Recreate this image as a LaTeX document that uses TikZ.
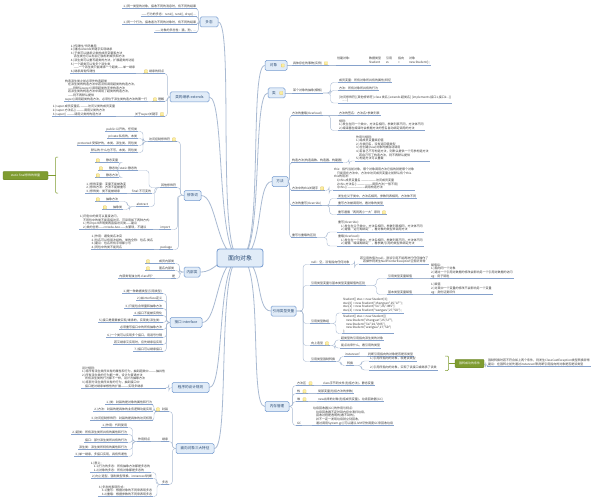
\documentclass[tikz,border=0pt]{standalone}
\usepackage{fontspec}
\newfontfamily\cjk{Noto Sans CJK SC}
\usetikzlibrary{calc}
\pgfdeclarelayer{bg}
\pgfsetlayers{bg,main}
\definecolor{txt}{HTML}{3A3A3A}
\definecolor{ulc}{HTML}{86A2CC}
\definecolor{lnc}{HTML}{A9BAD2}
\definecolor{boxf}{HTML}{E1ECF8}
\definecolor{boxb}{HTML}{7299CF}
\definecolor{boxt}{HTML}{2A4B74}
\definecolor{grn}{HTML}{7F9C30}
\definecolor{icof}{HTML}{FBEEA0}
\definecolor{icob}{HTML}{DDBB55}
\tikzset{
  tt/.style={font=\cjk\fontsize{3}{3.6}\selectfont, text=txt, inner xsep=0.8pt, inner ysep=0.5pt, align=left},
  uline/.style={draw=ulc, line width=0.35pt},
  ul/.style={tt, append after command={(\tikzlastnode.south west) edge[uline] (\tikzlastnode.south east)}},
  L/.style={ul, anchor=south east},
  R/.style={ul, anchor=south west},
  topic/.style={draw=boxb, fill=boxf, rounded corners=1.5pt, line width=0.5pt, font=\cjk\fontsize{3.6}{4}\selectfont, text=boxt, inner sep=0pt, minimum height=10pt},
  root/.style={draw=boxb, fill=boxf, rounded corners=2.5pt, line width=0.8pt, font=\cjk\fontsize{6}{7}\selectfont, text=boxt, inner sep=0pt, minimum width=46pt, minimum height=18pt},
  ico/.style={draw=icob, fill=icof, line width=0.2pt, rounded corners=0.5pt, minimum size=3.2pt, inner sep=0pt},
  gtopic/.style={draw=grn!80!black, fill=grn, rounded corners=1pt, line width=0.3pt, text=white, font=\cjk\fontsize{3}{3.6}\selectfont, inner sep=0pt, minimum height=8.5pt},
  grnl/.style={draw=grn, line width=0.5pt, rounded corners=1pt},
  conn/.style={draw=lnc, line width=0.4pt, rounded corners=3pt, to path={let \p1=(\tikztostart), \p2=(\tikztotarget) in -- ({(\x1+\x2)/2},\y1) -- ({(\x1+\x2)/2},\y2) -- (\tikztotarget) \tikztonodes}},
  sconn/.style={draw=lnc, line width=0.4pt},
  mainc/.style={draw=lnc, line width=0.8pt},
}
\newcommand\LK[2]{\draw[conn] (#1) to (#2.south east);}
\newcommand\RK[2]{\draw[conn] (#1) to (#2.south west);}
\newcommand\LS[2]{\draw[sconn] (#1) -- (#2.south east);}
\newcommand\RS[2]{\draw[sconn] (#1) -- (#2.south west);}
\newcommand\ML[1]{\draw[mainc] (c.center) .. controls +(-24,0) and +(16,0) .. (#1.east);}
\newcommand\MR[1]{\draw[mainc] (c.center) .. controls +(24,0) and +(-16,0) .. (#1.west);}
\begin{document}
\begin{tikzpicture}[x=1pt,y=-1pt]
\useasboundingbox (0,0) rectangle (607,500);
\begin{pgfonlayer}{bg}\fill[white] (0,0) rectangle (607,500);\end{pgfonlayer}

% root
\node[root] (c) at (240,258) {面向对象};

% level-1 topics, left
\node[topic, minimum width=18pt] (dt) at (209,22) {多态};
\node[topic, minimum width=39pt] (jc) at (189.5,97) {类的继承 extends};
\node[topic, minimum width=17pt] (xs) at (192.5,195.5) {修饰词};
\node[topic, minimum width=16pt] (nb) at (192,272) {内部类};
\node[topic, minimum width=32pt] (jk) at (186,322.5) {接口 interface};
\node[topic, minimum width=37pt] (gz) at (190.5,387.5) {程序的设计规则};
\node[topic, minimum width=38pt] (sd) at (195,448.5) {面向对象三大特征};
% level-1 topics, right
\node[topic, minimum width=22pt] (dx) at (276,65.5) {对象\hspace*{5pt}};
\node[ico] (dxi) at ([xshift=-4.5pt]dx.east) {};
\node[topic, minimum width=17pt] (lei) at (276.5,93) {类\hspace*{5pt}};
\node[ico] (leii) at ([xshift=-4pt]lei.east) {};
\node[topic, minimum width=16pt] (ff) at (280,181.5) {方法};
\node[topic, minimum width=25pt] (yy) at (283.5,311) {引用类型变量};
\node[topic, minimum width=24pt] (nc) at (277,406.5) {内存管理};

% ---------- 多态
\node[L] (d1) at (197,8.5) {1.)同一类型的对象，接收不同的消息时，有不同的结果};
\node[L] (d2) at (197,16.5) {——行为的多态：run1(), run2(), drop()...};
\node[L] (d3) at (197,24.5) {1.)同一个行为，接收者为不同的对象时，有不同的结果};
\node[L] (d4) at (197,32.5) {——对象的多态性：猫，狗，...};

% ---------- 类的继承
\node[L] (j1) at (165,73.5) {\hspace*{5pt}继承的特点};
\node[ico] (j1i) at ([xshift=3pt]j1.west) {};
\node[L] (jb1) at (136,73.5) {1.)传递性/代码重用\\2.)通过extends关键字实现继承\\3.)子类可以继承父类的成员变量和方法\\\quad 派生类也可以有自己独有的成员和方法\\4.)派生类可以重写超类的方法，扩展超类的功能\\5.)一个超类可以有多个派生类\\\quad ——一个派生类只能继承一个超类——单一继承\\6.)继承具有传递性};
\node[L] (j2) at (165,101.5) {\hspace*{5pt}理解};
\node[ico] (j2i) at ([xshift=3pt]j2.west) {};
\node[L] (jb2) at (148,101.5) {构造派生类之前必须先构造超类\\\quad 在派生类的构造方法中若没有调用超类的构造方法，\\\quad ——则默认super()调用超类的无参构造方法\\\quad 若派生类的构造方法中调用了超类的构造方法，\\\quad ——则不再默认提供\\super()调用超类构造方法，必须位于派生类构造方法的第一行};
\node[L] (j3) at (165,116.5) {关于super关键字\hspace*{6pt}};
\node[ico] (j3i) at ([xshift=-3pt]j3.east) {};
\node[L] (jb3) at (116,116.5) {1.)super.成员变量名 ———访问父类的成员变量\\2.)super.方法名() ———调用父类的方法\\3.)super() ———调用父类的构造方法};

% ---------- 修饰词
\node[L] (x1) at (177,141.5) {访问控制修饰符\hspace*{6pt}};
\node[ico] (x1i) at ([xshift=-3pt]x1.east) {};
\node[L] (x1a) at (138,131.5) {public:公开的，任何类};
\node[L] (x1b) at (138,138.5) {private:私有的，本类};
\node[L] (x1c) at (138,145.5) {protected:受保护的，本类、派生类、同包类};
\node[L] (x1d) at (138,152.5) {默认的:什么也不写，本类、同包类};
\node[L] (x2) at (177,187.5) {其他修饰符};
\node[L] (x2a) at (138,170.5) {static:静态的};
\node[L] (s1) at (119,162.5) {\hspace*{10pt}静态变量};
\node[ico] (s1i) at ([xshift=2.8pt]s1.west) {};
\node[L] (s2) at (119,170.5) {\hspace*{10pt}静态块};
\node[ico] (s2i) at ([xshift=2.8pt]s2.west) {};
\node[L] (s3) at (119,177.5) {\hspace*{10pt}静态方法};
\node[ico] (s3i) at ([xshift=2.8pt]s3.west) {};
\node[L] (x2b) at (152,193.5) {final:不可变的};
\node[L] (x2bb) at (127,193.5) {1.)修饰变量：变量不能被改变\\2.)修饰方法：方法不能被重写\\3.)修饰类：类不能被继承};
\node[L] (x2c) at (149,206.5) {abstract};
\node[L] (a1) at (119,201.5) {\hspace*{10pt}抽象方法};
\node[ico] (a1i) at ([xshift=2.8pt]a1.west) {};
\node[L] (a2) at (123,209.5) {\hspace*{10pt}抽象类};
\node[ico] (a2i) at ([xshift=2.8pt]a2.west) {};
\node[L] (x3) at (171,229.5) {import};
\node[L] (x3b) at (153,229.5) {1.)同包中的类可以直接访问，\\\quad 不同包中的类不能直接访问，可采用如下两种方式：\\\quad 1.)先import声明类再直接访问类——建议\\\quad 2.)类的全称——cn.tedu.Aoo——太繁琐，不建议};
\node[L] (x4) at (173,249.5) {package};
\node[L] (x4b) at (154,249.5) {1.)作用：避免类名冲突\\2.)包名可以有层次结构，类的全称：包名.类名\\3.)建议：包名所有字母都小写\\4.)同包中的类不能同名};

% green summary (static / final)
\node[gtopic, minimum width=45pt] (g1) at (25.5,175.5) {static final修饰的常量};
\coordinate (gb1) at (58,157);
\coordinate (gbm) at (55.5,175.5);
\coordinate (gb2) at (58,193);

% ---------- 内部类
\node[L] (n1) at (175,263.5) {\hspace*{13pt}成员内部类};
\node[ico] (n1i) at ([xshift=3pt]n1.west) {};
\node[L] (n2) at (175,270.5) {\hspace*{13pt}匿名内部类};
\node[ico] (n2i) at ([xshift=3pt]n2.west) {};
\node[L] (n3) at (176,278.5) {是};
\node[L] (n3a) at (155,278.5) {内部类有独立的.class吗？};

% ---------- 接口
\node[L] (k1) at (163,293.5) {1.)是一种数据类型(引用类型)};
\node[L] (k2) at (163,300.5) {2.)由interface定义};
\node[L] (k3) at (163,308.5) {3.)只能包含常量和抽象方法};
\node[L] (k4) at (163,315.5) {4.)接口不能被实例化};
\node[L] (k5) at (163,322.5) {5.)接口是需要被实现/继承的，实现类/派生类：};
\node[L] (k6) at (163,329.5) {必须重写接口中的所有抽象方法};
\node[L] (k7) at (163,337.5) {6.)一个类可以实现多个接口，用逗号分隔};
\node[L] (k8) at (163,344.5) {若又继承又实现时，应先继承后实现};
\node[L] (k9) at (163,351.5) {7.)接口可以继承接口};

% ---------- 程序的设计规则
\node[L] (gb) at (166,388) {设计规则：\\1.)将所有派生类所共有的属性和行为，抽到超类中———抽共性\\2.)所有派生类的行为都一样，设计为普通方法\\\quad 所有派生类的行为都不一样，设计为抽象方法\\3.)将部分派生类所共有的行为，抽到接口中\\\quad 接口是对继承单根性的扩展———实现多继承};

% ---------- 面向对象三大特征
\node[L] (f1) at (169,411.5) {\hspace*{6pt}封装};
\node[ico] (f1i) at ([xshift=3pt]f1.west) {};
\node[L] (f1a) at (153,404.5) {1.)类：封装的是对象的属性和行为};
\node[L] (f1b) at (153,411.5) {2.)方法：封装的是具体的业务逻辑功能实现};
\node[L] (f1c) at (153,420.5) {3.)访问控制修饰符：封装的是具体的访问权限};
\node[L] (f2) at (169,441.5) {继承};
\node[L] (f2x) at (151,441.5) {作用特点};
\node[L] (f2a) at (128,427.5) {1.)作用：代码复用};
\node[L] (f2b) at (128,434.5) {2.)超类：所有派生类所共有的属性和行为};
\node[L] (f2c) at (128,442.5) {接口：部分派生类所共有的行为};
\node[L] (f2d) at (128,449.5) {派生类：派生类所特有的属性和行为};
\node[L] (f2e) at (128,456.5) {3.)单一继承，多接口实现，具有传递性};
\node[L] (f3) at (169,484.5) {多态};
\node[L] (f3a) at (151,472.5) {1.)意义：\\\quad 1.1)行为的多态：所有抽象方法都是多态的\\\quad 1.2)对象的多态：所有对象都是多态的};
\node[L] (f3b) at (153,478.5) {2.)向上造型、强制类型转换、instanceof判断};
\node[L] (f3c) at (153,496.5) {3.)多态的表现形式：\\\quad 3.1)重写：根据对象的不同来表现多态\\\quad 3.2)重载：根据参数的不同来表现多态};

% ---------- 对象
\node[R] (o1) at (292,65.5) {具体存在的事物(实例)\hspace*{6pt}};
\node[ico] (o1i) at ([xshift=-3pt]o1.east) {};
\node[R] (o1a) at (336,65.5) {\renewcommand\arraystretch{1.1}\begin{tabular}{@{}l@{\hspace{17pt}}l@{\hspace{5pt}}l@{\hspace{6pt}}l@{\hspace{5pt}}l@{}}创建对象： & 数据类型 & 引用 & 指向 & 对象\\ & Student & zs & = & new Student();\end{tabular}};

% ---------- 类
\node[R] (l1) at (292,93) {某个对象的抽象(模板)};
\node[R] (l1a) at (338,82.5) {成员变量：所有对象所共有的属性/特征};
\node[R] (l1b) at (338,90.5) {方法：所有对象所共有的行为};
\node[R] (l1c) at (338,103) {[访问修饰符] [其他修饰符] class 类名 [extends 超类名] [implements 接口1,接口2...]\{\\\quad ......\}};

% ---------- 方法
\node[R] (m1) at (291,115.5) {方法的重载(Overload)};
\node[R] (m1a) at (338,115.5) {方法的签名：方法名+参数列表};
\node[R] (m1b) at (338,130.5) {规则：\\1.)发生在同一个类中，方法名相同，参数列表不同，方法体不同\\2.)编译器在编译时会根据方法的签名自动绑定调用的方法};
\node[R] (m2) at (291,162.5) {构造方法(构造函数、构造器、构建器)};
\node[R] (m2a) at (355,161) {作用与规则：\\1.)给成员变量赋初值\\2.)与类同名，没有返回值类型\\3.)在创建(new)对象时被自动调用\\4.)若自己不写构造方法，则默认提供一个无参构造方法\\\quad 若自己写了构造方法，则不再默认提供\\5.)构造方法可以重载};
\node[R] (m3) at (291,190.5) {方法中的this关键字\hspace*{6pt}};
\node[ico] (m3i) at ([xshift=-3pt]m3.east) {};
\node[R] (m3a) at (333,190) {this：指代当前对象，哪个对象调用方法它指的就是哪个对象\\\quad 只能用在方法中，方法中访问成员变量之前默认有个this.\\this的用法：\\\quad 1)this.成员变量名 ——————访问成员变量\\\quad 2)this.方法名() ——————调用方法(一般不用)\\\quad 3)this() ———————调用构造方法};
\node[R] (m4) at (291,205.5) {方法的重写(Override)};
\node[R] (m4a) at (337,198.5) {发生在父子类中，方法名相同，参数列表相同，方法体不同};
\node[R] (m4b) at (337,205.5) {重写方法被调用时，看对象的类型};
\node[R] (m4c) at (337,214.5) {重写遵循“两同两小一大”原则\hspace*{6pt}};
\node[ico] (m4ci) at ([xshift=-3pt]m4c.east) {};
\node[R] (m5) at (291,237.5) {重写与重载的区别};
\node[R] (m5a) at (337,232) {重写(Override)：\\\quad 1.)发生在父子类中，方法名相同，参数列表相同，方法体不同\\\quad 2.)遵循“运行期绑定”，看对象的类型来调用方法};
\node[R] (m5b) at (337,246) {重载(Overload)：\\\quad 1.)发生在一个类中，方法名相同，参数列表不同，方法体不同\\\quad 2.)遵循“编译期绑定”，看参数/引用的类型来绑定方法};

% ---------- 引用类型变量
\node[R] (r1) at (310,264.5) {null：空，没有指向任何对象};
\node[R] (r1a) at (359,264) {若引用的值为null，则该引用不能再进行任何操作了\\\quad 若操作则发生NullPointerException空指针异常};
\node[R] (r2) at (310,285.5) {引用类型变量与基本类型变量赋值的区别};
\node[R] (r2a) at (387,278.5) {引用类型变量赋值};
\node[R] (r2aa) at (430,278.5) {赋值后：\\1.)指向同一个对象\\2.)通过一个引用对数据的修改会影响另一个引用对数据的访问\\eg：房子钥匙};
\node[R] (r2b) at (387,294.5) {基本类型变量赋值};
\node[R] (r2ba) at (430,294.5) {1.)赋值\\2.)对其中一个变量的修改不会影响另一个变量\\eg：身份证复印件};
\node[R] (r3) at (310,323.5) {引用类型数组};
\node[R] (r3a) at (342,313) {Student[] stus = new Student[3];\\stus[0] = new Student("zhangsan",25,"LF");\\stus[1] = new Student("lisi",26,"JMS");\\stus[2] = new Student("wangwu",27,"SD");};
\node[R] (r3b) at (342,333.5) {Student[] stus = new Student[]\{\\\quad new Student("zhangsan",25,"LF"),\\\quad new Student("lisi",26,"JMS"),\\\quad new Student("wangwu",27,"SD")\\\};};
\node[R] (r4) at (310,345.5) {向上造型\hspace*{6pt}};
\node[ico] (r4i) at ([xshift=-3pt]r4.east) {};
\node[R] (r4a) at (340,340) {超类型的引用指向派生类的对象};
\node[R] (r4b) at (340,348) {能点出来什么，看引用的类型};
\node[R] (r5) at (310,361.5) {引用类型强制转换};
\node[R] (r5a) at (344,356.5) {instanceof};
\node[R] (r5a1) at (367,356.5) {判断引用指向的对象是否是该类型};
\node[R] (r5b) at (346,365.5) {转换};
\node[R] (r5b1) at (369,361) {1.)引用所指向的对象，就是该类型};
\node[R] (r5b2) at (369,370) {2.)引用所指向的对象，实现了该接口或继承了该类};
\node[gtopic, minimum width=29pt] (g2) at (469.5,363.5) {强转成功的条件};
\node[R] (g2a) at (487,366) {强制转换时若不符合如上两个条件，则发生ClassCastException类型转换异常\\建议：在强转之前先通过instanceof来判断引用指向的对象是否是该类型};
\coordinate (gc1) at (445,356);
\coordinate (gcm) at (448.5,363.5);
\coordinate (gc2) at (445,370.5);

% ---------- 内存管理
\node[R] (c1) at (296,385.5) {方法区\hspace*{7pt}};
\node[ico] (c1i) at ([xshift=-3.5pt]c1.east) {};
\node[R] (c1a) at (322,385.5) {class字节码文件(包括方法)、静态变量};
\node[R] (c2) at (296,393.5) {栈\hspace*{7pt}};
\node[ico] (c2i) at ([xshift=-3.5pt]c2.east) {};
\node[R] (c2a) at (317,393.5) {局部变量(包括方法的参数)};
\node[R] (c3) at (296,401.5) {堆\hspace*{7pt}};
\node[ico] (c3i) at ([xshift=-3.5pt]c3.east) {};
\node[R] (c3a) at (317,401.5) {new出来的对象(包括成员变量)、垃圾回收器(GC)};
\node[R] (c4) at (296,425.5) {GC};
\node[R] (c4a) at (312,425.5) {垃圾回收器(GC)的作用与特点：\\\quad 垃圾回收器不定时到内存中清扫垃圾，\\\quad 回收过程是透明的(看不到的)，\\\quad 并不一定一发现垃圾就立刻回收，\\\quad 通过调用System.gc()可以建议JVM尽快调度GC来回收垃圾};

% ================= connectors
\begin{pgfonlayer}{bg}
\ML{dt}\ML{jc}\ML{xs}\ML{nb}\ML{jk}\ML{gz}\ML{sd}
\MR{dx}\MR{lei}\MR{ff}\MR{yy}\MR{nc}
% 多态
\LK{dt.west}{d1}\LK{dt.west}{d2}\LK{dt.west}{d3}\LK{dt.west}{d4}
% 继承
\LK{jc.west}{j1}\LK{jc.west}{j2}\LK{jc.west}{j3}
\LS{j1.south west}{jb1}\LS{j2.south west}{jb2}\LS{j3.south west}{jb3}
% 修饰词
\LK{xs.west}{x1}\LK{xs.west}{x2}\LK{xs.west}{x3}\LK{xs.west}{x4}
\LK{x1.south west}{x1a}\LK{x1.south west}{x1b}\LK{x1.south west}{x1c}\LK{x1.south west}{x1d}
\LK{x2.south west}{x2a}\LK{x2.south west}{x2b}\LK{x2.south west}{x2c}
\LK{x2a.south west}{s1}\LS{x2a.south west}{s2}\LK{x2a.south west}{s3}
\LS{x2b.south west}{x2bb}
\LK{x2c.south west}{a1}\LK{x2c.south west}{a2}
\LS{x3.south west}{x3b}\LS{x4.south west}{x4b}
% 内部类
\LK{nb.west}{n1}\LK{nb.west}{n2}\LK{nb.west}{n3}
\LS{n3.south west}{n3a}
% 接口
\LK{jk.west}{k1}\LK{jk.west}{k2}\LK{jk.west}{k3}\LK{jk.west}{k4}\LK{jk.west}{k5}
\LK{jk.west}{k6}\LK{jk.west}{k7}\LK{jk.west}{k8}\LK{jk.west}{k9}
% 设计规则
\LK{gz.west}{gb}
% 三大特征
\LK{sd.west}{f1}\LK{sd.west}{f2}\LK{sd.west}{f3}
\LK{f1.south west}{f1a}\LK{f1.south west}{f1b}\LK{f1.south west}{f1c}
\LS{f2.south west}{f2x}
\LK{f2x.south west}{f2a}\LK{f2x.south west}{f2b}\LK{f2x.south west}{f2c}\LK{f2x.south west}{f2d}\LK{f2x.south west}{f2e}
\LK{f3.south west}{f3a}\LK{f3.south west}{f3b}\LK{f3.south west}{f3c}
% 对象 / 类
\RS{dx.east}{o1}\RS{o1.south east}{o1a}
\RS{lei.east}{l1}
\RK{l1.south east}{l1a}\RK{l1.south east}{l1b}\RK{l1.south east}{l1c}
% 方法
\RK{ff.east}{m1}\RK{ff.east}{m2}\RK{ff.east}{m3}\RK{ff.east}{m4}\RK{ff.east}{m5}
\RS{m1.south east}{m1a}\RK{m1.south east}{m1b}
\RK{m2.south east}{m2a}\RK{m3.south east}{m3a}
\RK{m4.south east}{m4a}\RS{m4.south east}{m4b}\RK{m4.south east}{m4c}
\RK{m5.south east}{m5a}\RK{m5.south east}{m5b}
% 引用类型变量
\RK{yy.east}{r1}\RK{yy.east}{r2}\RK{yy.east}{r3}\RK{yy.east}{r4}\RK{yy.east}{r5}
\RK{r1.south east}{r1a}
\RK{r2.south east}{r2a}\RK{r2.south east}{r2b}
\RS{r2a.south east}{r2aa}\RS{r2b.south east}{r2ba}
\RK{r3.south east}{r3a}\RK{r3.south east}{r3b}
\RK{r4.south east}{r4a}\RK{r4.south east}{r4b}
\RK{r5.south east}{r5a}\RK{r5.south east}{r5b}
\RS{r5a.south east}{r5a1}
\RK{r5b.south east}{r5b1}\RK{r5b.south east}{r5b2}
\RK{g2.east}{g2a}
% 内存管理
\RK{nc.east}{c1}\RK{nc.east}{c2}\RK{nc.east}{c3}\RK{nc.east}{c4}
\RS{c1.south east}{c1a}\RS{c2.south east}{c2a}\RS{c3.south east}{c3a}\RS{c4.south east}{c4a}
% green summaries
\draw[grnl] (gb1) -| (gbm) |- (gb2);
\draw[grnl] (gbm) -- (g1.east);
\draw[grnl] (gc1) -| (gcm) |- (gc2);
\draw[grnl] (gcm) -- (g2.west);
\end{pgfonlayer}
\end{tikzpicture}
\end{document}
